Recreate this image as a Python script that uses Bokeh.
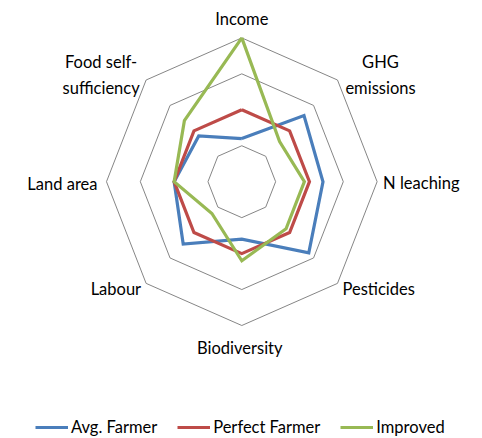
import numpy as np
from bokeh.plotting import figure
from bokeh.models import Range1d, Legend, LegendItem
from bokeh.core.properties import value
from bokeh.embed import file_html
from bokeh.resources import INLINE

categories = ["Income", "GHG\nemissions", "N leaching", "Pesticides", "Biodiversity",
              "Labour", "Land area", "Food self-\nsufficiency"]
avg_farmer = [1.2, 2.6, 2.4, 2.8, 1.6, 2.45, 2.0, 1.8]
perfect_farmer = [2.0, 2.0, 2.0, 2.0, 2.0, 2.0, 2.0, 2.0]
improved = [4.0, 1.58, 1.85, 1.85, 2.2, 1.25, 2.0, 2.4]
series_names = ["Avg. Farmer", "Perfect Farmer", "Improved"]
series_colors = ["#4A7EBB", "#BE4B48", "#98B954"]
grid_levels = [1, 2, 3, 4]

FONT = "Lato"
n = len(categories)
angles = np.pi / 2 - np.arange(n) * 2 * np.pi / n

W, H = 480, 438
p = figure(width=W, height=H, output_backend="svg", toolbar_location=None,
           x_axis_location=None, y_axis_location=None, min_border=0,
           x_range=Range1d(-7.133, 7.056), y_range=Range1d(-7.143, 5.040))
p.grid.visible = False
p.outline_line_color = None
p.background_fill_color = "white"

# grid octagons
for lv in grid_levels:
    xs = list(lv * np.cos(angles)) + [lv * np.cos(angles[0])]
    ys = list(lv * np.sin(angles)) + [lv * np.sin(angles[0])]
    p.line(xs, ys, line_color="#868686", line_width=1)

items = []
for name, vals, col in zip(series_names, [avg_farmer, perfect_farmer, improved], series_colors):
    v = np.array(vals + [vals[0]])
    a = np.concatenate([angles, angles[:1]])
    r = p.line(v * np.cos(a), v * np.sin(a), line_color=col, line_width=3.2, line_join="miter")
    items.append(LegendItem(label=name, renderers=[r]))

# category labels anchored at the outer vertex
R = grid_levels[-1]
lx = R * np.cos(angles)
ly = R * np.sin(angles)
align = ["center", "center", "left", "left", "center", "right", "right", "center"]
xoff = [0, 43, 6, 5, -2, -5, -9, -45]
yoff = [-19, -5, 1, 6, 22, 6, 2, -5]
for i in range(n):
    p.text(x=[lx[i]], y=[ly[i]], text=[categories[i]], text_font=value(FONT),
           text_font_size="16.5px", text_color="#000000", text_align=align[i],
           text_baseline="middle", x_offset=xoff[i], y_offset=yoff[i],
           text_line_height=1.3)

legend = Legend(items=items, orientation="horizontal", location=(35, 1),
                label_text_font=FONT, label_text_font_size="16.5px", label_text_color="#000000",
                glyph_width=33, glyph_height=16, label_standoff=3, spacing=20,
                padding=0, margin=0, border_line_color=None, background_fill_alpha=0,
                label_height=16)
p.add_layout(legend)

open("out.html", "w").write(file_html(p, INLINE))
